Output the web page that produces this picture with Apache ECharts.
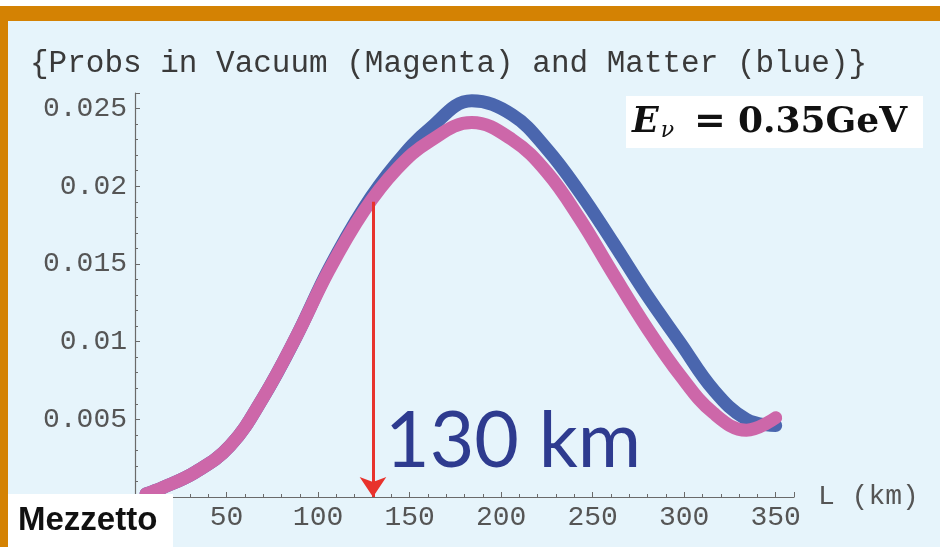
<!DOCTYPE html>
<html>
<head>
<meta charset="utf-8">
<script src="https://cdn.jsdelivr.net/npm/echarts@6/dist/echarts.min.js"></script>
<style>
  html, body { margin: 0; padding: 0; background: #ffffff; }
  #chart { width: 940px; height: 547px; }
</style>
</head>
<body>
<div id="chart"></div>
<script>
// ---- data ----
const titleText = '{Probs in Vacuum (Magenta) and Matter (blue)}';
const xAxisName = 'L (km)';
const distanceKm = [6, 15, 33, 52, 70, 88, 106, 125, 143, 161, 184, 206, 225, 243, 261, 279, 298, 316, 334, 350];
const probVacuum = [0.0002, 0.0006, 0.0016, 0.0033, 0.0064, 0.0103, 0.0146, 0.0184, 0.0211, 0.0229, 0.0241, 0.0230, 0.0209, 0.0179, 0.0144, 0.0110, 0.0078, 0.0054, 0.0043, 0.0051];
const probMatter = [0.0002, 0.0006, 0.0016, 0.0033, 0.0064, 0.0103, 0.0147, 0.0186, 0.0215, 0.0237, 0.0255, 0.0246, 0.0224, 0.0196, 0.0164, 0.0131, 0.0099, 0.0069, 0.0050, 0.0046];
const markerDistance = 130;
const markerTop = 0.0190;
const markerText = '130 km';
const energyLabel = ['E', 'ν', '=', '0.35GeV'];
const creditText = 'Mezzetto';

const vacuumPts = distanceKm.map((d, i) => [d, probVacuum[i]]);
const matterPts = distanceKm.map((d, i) => [d, probMatter[i]]);

const mono = '"Courier New", "Liberation Mono", monospace';
const serif = '"DejaVu Serif", "Liberation Serif", serif';
const axisColor = '#6a6a6a';

const chart = echarts.init(document.getElementById('chart'), null, { renderer: 'canvas' });
chart.setOption({
  animation: false,
  backgroundColor: '#e6f4fb',
  grid: { left: 135, right: 146, top: 93, bottom: 50, containLabel: false },
  xAxis: {
    type: 'value', min: 0, max: 360, interval: 50,
    name: xAxisName, nameLocation: 'end', nameGap: 24,
    nameTextStyle: { fontFamily: mono, fontSize: 28, color: '#555', verticalAlign: 'middle', align: 'left' },
    axisLine: { show: true, lineStyle: { color: axisColor, width: 1.2 } },
    axisTick: { show: true, inside: true, length: 5, lineStyle: { color: axisColor } },
    minorTick: { show: true, splitNumber: 5, length: 3, lineStyle: { color: axisColor } },
    splitLine: { show: false },
    axisLabel: {
      fontFamily: mono, fontSize: 28, color: '#555', margin: 7,
      showMaxLabel: false,
      formatter: v => (v === 0 || v % 50 !== 0) ? '' : String(v)
    }
  },
  yAxis: {
    type: 'value', min: 0, max: 0.026, interval: 0.005,
    axisLine: { show: true, lineStyle: { color: axisColor, width: 1.2 } },
    axisTick: { show: true, inside: true, length: 5, lineStyle: { color: axisColor } },
    minorTick: { show: true, splitNumber: 5, length: 3, lineStyle: { color: axisColor } },
    splitLine: { show: false },
    axisLabel: {
      fontFamily: mono, fontSize: 28, color: '#555', margin: 8,
      showMaxLabel: false,
      formatter: v => (v === 0 || v > 0.0255) ? '' : String(+v.toFixed(3))
    }
  },
  series: [
    {
      name: 'Matter', type: 'line', data: matterPts, smooth: 0.4,
      showSymbol: false, symbol: 'none', silent: true, z: 2,
      lineStyle: { color: '#4a66ae', width: 13, cap: 'round', join: 'round' }
    },
    {
      name: 'Vacuum', type: 'line', data: vacuumPts, smooth: 0.4,
      showSymbol: false, symbol: 'none', silent: true, z: 3,
      lineStyle: { color: '#cd67a9', width: 13, cap: 'round', join: 'round' },
      markLine: {
        silent: true, animation: false,
        symbol: ['none', 'arrow'], symbolSize: 20,
        label: { show: false },
        lineStyle: { color: '#e8322c', width: 3, type: 'solid' },
        emphasis: { disabled: true },
        data: [[{ coord: [markerDistance, markerTop] }, { coord: [markerDistance, 0] }]]
      }
    }
  ],
  graphic: [
    { type: 'rect', shape: { x: 0, y: 0, width: 940, height: 6 }, style: { fill: '#ffffff' }, z: 10 },
    { type: 'rect', shape: { x: 0, y: 6, width: 940, height: 15 }, style: { fill: '#d48203' }, z: 10 },
    { type: 'rect', shape: { x: 0, y: 6, width: 8, height: 541 }, style: { fill: '#d48203' }, z: 10 },
    {
      type: 'text', left: 30, top: 48, z: 10,
      style: { text: titleText, font: '31px ' + mono, fill: '#3a3a3a' }
    },
    { type: 'rect', shape: { x: 626, y: 96, width: 297, height: 52 }, style: { fill: '#ffffff' }, z: 10 },
    {
      type: 'text', x: 632, y: 123, z: 11,
      style: {
        text: '{e|' + energyLabel[0] + '}{n|' + energyLabel[1] + '}{q|' + energyLabel[2] + '}{r|' + energyLabel[3] + '}',
        verticalAlign: 'middle',
        rich: {
          e: { fontFamily: serif, fontWeight: 'bold', fontStyle: 'italic', fontSize: 35, fill: '#111' },
          n: { fontFamily: serif, fontStyle: 'italic', fontSize: 22, fill: '#111', verticalAlign: 'bottom', padding: [14, 0, 0, 2] },
          q: { fontFamily: serif, fontWeight: 'bold', fontSize: 38, fill: '#111', padding: [0, 12, 0, 20] },
          r: { fontFamily: serif, fontWeight: 'bold', fontSize: 36, fill: '#111' }
        }
      }
    },
    {
      type: 'text', x: 385, y: 442, z: 11,
      style: { text: markerText, font: '77px Lato, "Open Sans", sans-serif', fill: '#2e3b8f', verticalAlign: 'middle' }
    },
    { type: 'rect', shape: { x: 8, y: 494, width: 165, height: 53 }, style: { fill: '#ffffff' }, z: 10 },
    {
      type: 'text', x: 18, y: 521, z: 11,
      style: { text: creditText, font: 'bold 33px "Liberation Sans", Arial, sans-serif', fill: '#111', verticalAlign: 'middle' }
    }
  ]
});
</script>
</body>
</html>
